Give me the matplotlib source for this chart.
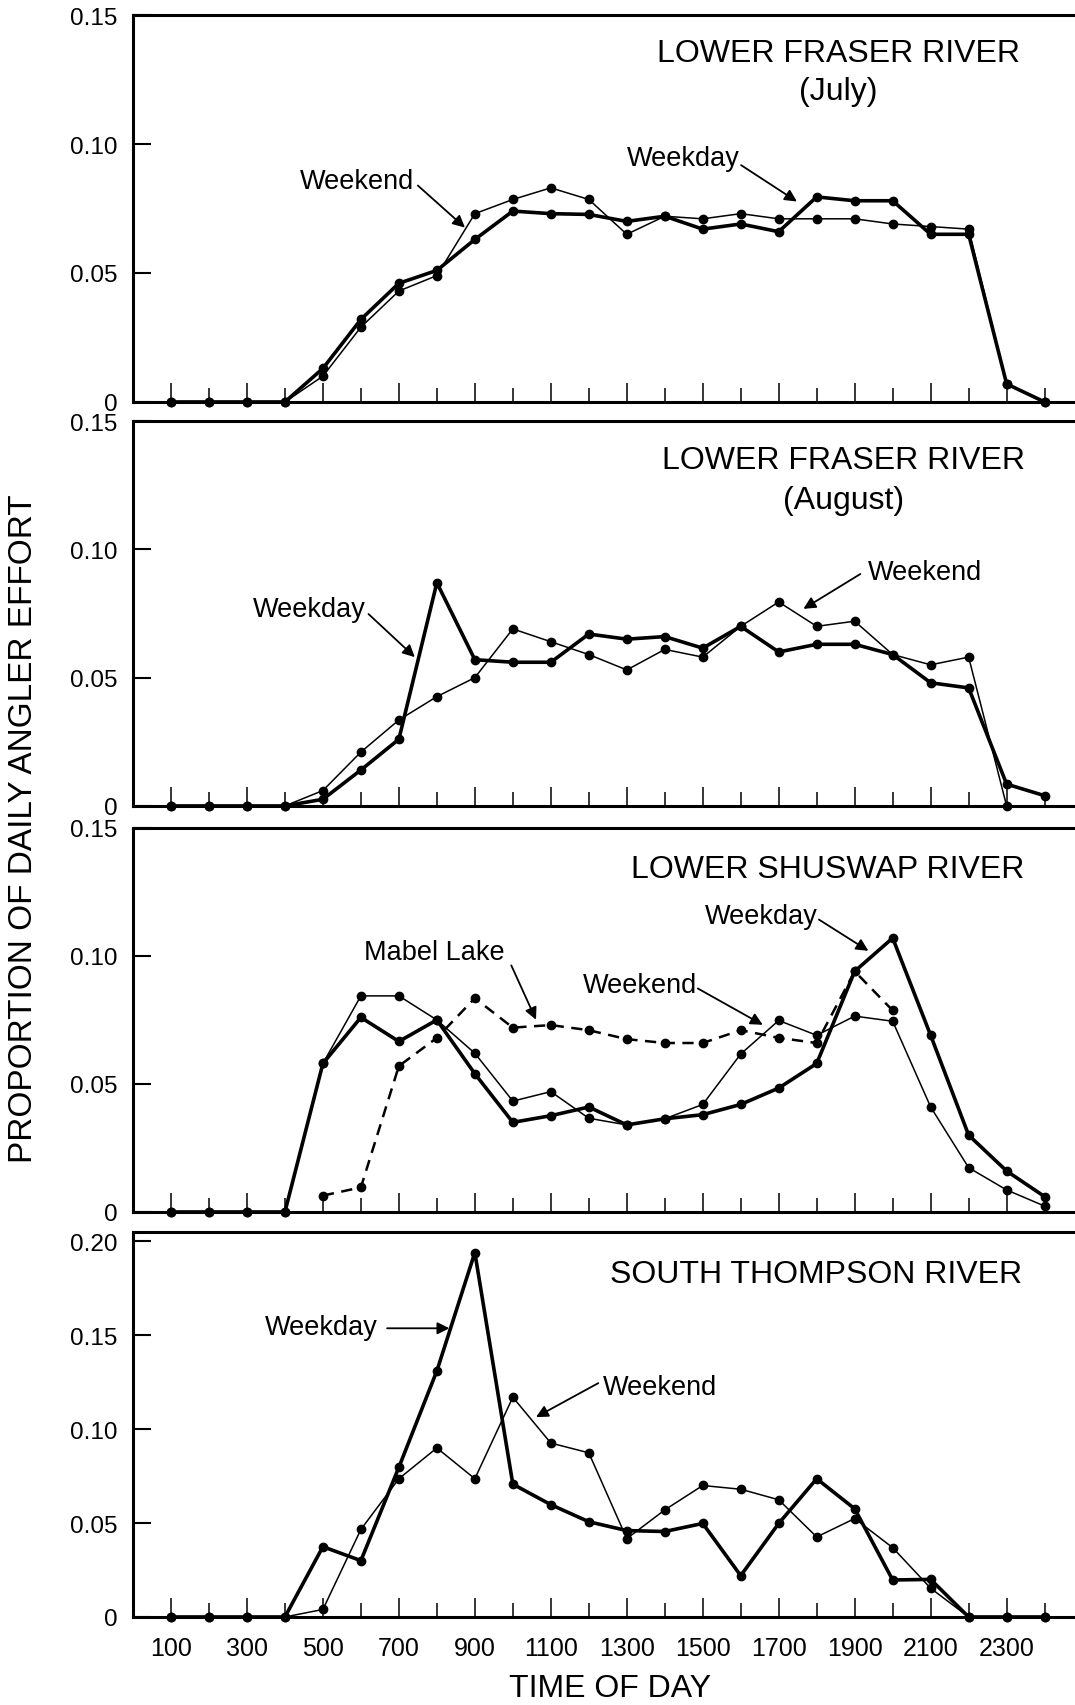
import numpy as np
import matplotlib
matplotlib.use('Agg')
import matplotlib.pyplot as plt
from matplotlib.ticker import FixedLocator

plt.rcParams['font.family'] = ['Liberation Sans', 'DejaVu Sans']

hours = np.arange(100, 2500, 100)
nan = np.nan

# Lower Fraser River, July
july_weekday = [0, 0, 0, 0, 0.013, 0.032, 0.046, 0.051, 0.063, 0.074, 0.073, 0.0727,
                0.070, 0.072, 0.067, 0.069, 0.066, 0.0795, 0.078, 0.078, 0.065, 0.065, 0.007, 0]
july_weekend = [0, 0, 0, 0, 0.010, 0.029, 0.043, 0.049, 0.073, 0.0785, 0.083, 0.0785,
                0.065, 0.072, 0.071, 0.073, 0.071, 0.071, 0.071, 0.069, 0.068, 0.067, 0.007, 0]

# Lower Fraser River, August
aug_weekday = [0, 0, 0, 0, 0.0026, 0.014, 0.026, 0.087, 0.057, 0.056, 0.056, 0.067,
               0.065, 0.066, 0.0615, 0.070, 0.060, 0.063, 0.063, 0.059, 0.048, 0.046, 0.0085, 0.004]
aug_weekend = [0, 0, 0, 0, 0.006, 0.021, 0.0335, 0.0426, 0.050, 0.069, 0.064, 0.059,
               0.053, 0.061, 0.058, 0.070, 0.0795, 0.070, 0.072, 0.059, 0.055, 0.058, 0, nan]

# Lower Shuswap River
shus_weekday = [0, 0, 0, 0, 0.058, 0.076, 0.0666, 0.075, 0.054, 0.035, 0.0376, 0.041,
                0.034, 0.0364, 0.038, 0.042, 0.0484, 0.058, 0.094, 0.107, 0.069, 0.030, 0.016, 0.006]
shus_weekend = [0, 0, 0, 0, 0.058, 0.0844, 0.0844, 0.075, 0.062, 0.0433, 0.047, 0.0366,
                0.034, 0.0364, 0.042, 0.0617, 0.0748, 0.069, 0.0765, 0.0745, 0.041, 0.0173, 0.0086, 0.0023]
mabel_lake = [nan, nan, nan, nan, 0.0064, 0.0096, 0.057, 0.068, 0.0835, 0.072, 0.073, 0.071,
              0.0675, 0.066, 0.066, 0.071, 0.068, 0.066, 0.094, 0.0787, nan, nan, nan, nan]

# South Thompson River
thom_weekday = [0, 0, 0, 0, 0.0374, 0.030, 0.0797, 0.131, 0.194, 0.0707, 0.0598, 0.0507,
                0.046, 0.0455, 0.0498, 0.022, 0.0498, 0.0736, 0.0576, 0.0197, 0.020, 0, 0, 0]
thom_weekend = [0, 0, 0, 0, 0.004, 0.0466, 0.0736, 0.090, 0.0736, 0.117, 0.0926, 0.0874,
                0.0417, 0.057, 0.070, 0.068, 0.0624, 0.0426, 0.0524, 0.0369, 0.0153, 0, 0, 0]

fig = plt.figure(figsize=(10.75, 17.06), dpi=100)
left = 0.1237
boxes = [(0.7638, 0.9906), (0.5270, 0.7526), (0.2890, 0.5141), (0.0516, 0.2773)]
axes = [fig.add_axes([left, b, 1.0 - left, t - b]) for b, t in boxes]

def thick(ax, y):
    ax.plot(hours, y, color='k', lw=2.6, marker='o', ms=6, clip_on=False, zorder=4)

def thin(ax, y):
    ax.plot(hours, y, color='k', lw=1.1, marker='o', ms=6, clip_on=False, zorder=3)

def label(ax, txt, pos, start, tip):
    ax.text(pos[0], pos[1], txt, ha='center', va='center', fontsize=19.5)
    ax.annotate('', xy=tip, xytext=start,
                arrowprops=dict(arrowstyle='-|>', lw=1.3, color='k', mutation_scale=18,
                                shrinkA=0, shrinkB=0))

for ax in axes:
    ax.set_xlim(0, 2480)
    ax.spines['right'].set_visible(False)
    for s in ['left', 'top', 'bottom']:
        ax.spines[s].set_linewidth(2.2)
    ax.xaxis.set_major_locator(FixedLocator(range(100, 2400, 200)))
    ax.xaxis.set_minor_locator(FixedLocator(range(200, 2500, 200)))
    ax.tick_params(axis='x', which='major', direction='in', length=14, width=1.1,
                   labelsize=18, pad=14, labelbottom=False)
    ax.tick_params(axis='x', which='minor', direction='in', length=10, width=1.1)
    ax.tick_params(axis='y', direction='in', length=13, width=1.5, labelsize=17.5, pad=11)

for ax in axes[:3]:
    ax.set_ylim(0, 0.15)
    ax.set_yticks([0, 0.05, 0.10, 0.15])
    ax.set_yticklabels(['0', '0.05', '0.10', '0.15'])

# panel 1
ax = axes[0]
thin(ax, july_weekend)
thick(ax, july_weekday)
ax.text(1857, 0.1352, 'LOWER FRASER RIVER', ha='center', va='center', fontsize=23)
ax.text(1857, 0.1205, '(July)', ha='center', va='center', fontsize=23)
label(ax, 'Weekend', (590, 0.0855), (750, 0.0839), (874, 0.0676))
label(ax, 'Weekday', (1449, 0.0944), (1601, 0.0918), (1748, 0.0777))

# panel 2
ax = axes[1]
thin(ax, aug_weekend)
thick(ax, aug_weekday)
ax.text(1871, 0.1348, 'LOWER FRASER RIVER', ha='center', va='center', fontsize=23)
ax.text(1871, 0.1192, '(August)', ha='center', va='center', fontsize=23)
label(ax, 'Weekday', (464, 0.0768), (620, 0.0748), (742, 0.058))
label(ax, 'Weekend', (2084, 0.0912), (1915, 0.0904), (1765, 0.0768))

# panel 3
ax = axes[2]
ax.plot(hours, mabel_lake, color='k', lw=1.8, dashes=(4.5, 3), marker='o', ms=6,
        clip_on=False, zorder=3)
thin(ax, shus_weekend)
thick(ax, shus_weekday)
ax.text(1828, 0.134, 'LOWER SHUSWAP RIVER', ha='center', va='center', fontsize=23)
label(ax, 'Mabel Lake', (792, 0.1014), (996, 0.0963), (1061, 0.0751))
label(ax, 'Weekday', (1653, 0.1157), (1806, 0.1142), (1936, 0.102))
label(ax, 'Weekend', (1334, 0.0887), (1487, 0.0873), (1658, 0.0731))

# panel 4
ax = axes[3]
ax.set_ylim(0, 0.205)
ax.set_yticks([0, 0.05, 0.10, 0.15, 0.20])
ax.set_yticklabels(['0', '0.05', '0.10', '0.15', '0.20'])
thin(ax, thom_weekend)
thick(ax, thom_weekday)
ax.text(1799, 0.1825, 'SOUTH THOMPSON RIVER', ha='center', va='center', fontsize=23)
label(ax, 'Weekday', (497, 0.1546), (669, 0.1537), (833, 0.1537))
label(ax, 'Weekend', (1388, 0.1225), (1225, 0.1245), (1061, 0.1064))
ax.tick_params(axis='x', which='major', labelbottom=True)
ax.set_xticklabels([str(h) for h in range(100, 2400, 200)])

fig.text(0.567, 0.010, 'TIME OF DAY', ha='center', va='center', fontsize=23)
fig.text(0.0223, 0.514, 'PROPORTION OF DAILY ANGLER EFFORT', ha='center', va='center',
         rotation=90, fontsize=24)

fig.savefig('out.png', dpi=100)
